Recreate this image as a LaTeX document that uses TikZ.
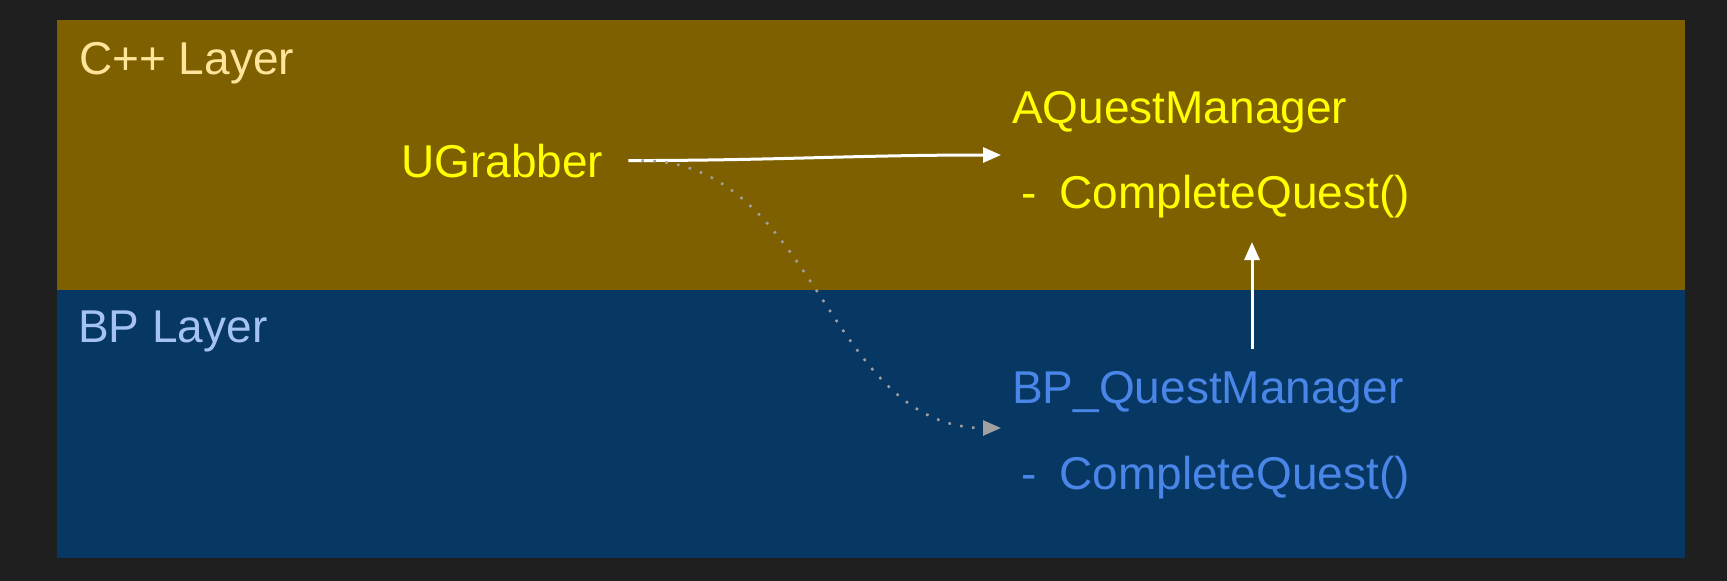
\documentclass[tikz,border=0pt]{standalone}
\usepackage{fontspec}
\setmainfont{Liberation Sans}
\usetikzlibrary{arrows.meta}
\definecolor{bgdark}{HTML}{1F1F1F}
\definecolor{cppfill}{HTML}{7F6000}
\definecolor{bpfill}{HTML}{073763}
\definecolor{cpplbl}{HTML}{FFE599}
\definecolor{bplbl}{HTML}{A4C2F4}
\definecolor{cppcls}{HTML}{FFFF00}
\definecolor{bpcls}{HTML}{4A86E8}
\definecolor{hintgray}{HTML}{A0A0A0}
\begin{document}
\begin{tikzpicture}[x=1pt, y=-1pt, line join=round,
	txt/.style={anchor=base west, inner sep=0pt, font=\fontsize{46}{55}\selectfont},
	link/.style={line width=3pt, white, -{Triangle[length=18pt,width=15pt]}},
	hint/.style={line width=2.5pt, hintgray, dash pattern=on 2.5pt off 9.5pt, -{Triangle[length=18pt,width=15pt]}}]
	% Layers
	\fill[bgdark] (0,0) rectangle (1727,581);
	\fill[cppfill] (57,20) rectangle (1685,290);
	\fill[bpfill] (57,290) rectangle (1685,558);
	\node[txt, text=cpplbl] (cpplayer) at (79,74) {C++ Layer};
	\node[txt, text=bplbl] (bplayer) at (78,342) {BP Layer};
	% Classes
	\node[txt, text=cppcls] (ugrab) at (401,177) {UGrabber};
	\node[txt, text=cppcls] (aqm) at (1012,123) {AQuestManager};
	\node[txt, text=cppcls] (aqmfn) at (1012,208) {\hspace*{9pt}-\hspace{23pt}CompleteQuest()};
	\node[txt, text=bpcls] (bpqm) at (1012,403) {BP\_QuestManager};
	\node[txt, text=bpcls] (bpqmfn) at (1012,489) {\hspace*{9pt}-\hspace{23pt}CompleteQuest()};
	% Calls
	\draw[link] ([xshift=25pt]ugrab.east) to[out=0,in=180] ([xshift=-11pt,yshift=-32pt]aqm.base west);
	\draw[hint] ([xshift=38pt]ugrab.east) to[out=0,in=180] ([xshift=-11pt,yshift=-25pt]bpqm.base west);
	\draw[link] ([xshift=240pt,yshift=54pt]bpqm.base west) -- ([xshift=240pt,yshift=-34pt]aqmfn.base west);
\end{tikzpicture}
\end{document}
